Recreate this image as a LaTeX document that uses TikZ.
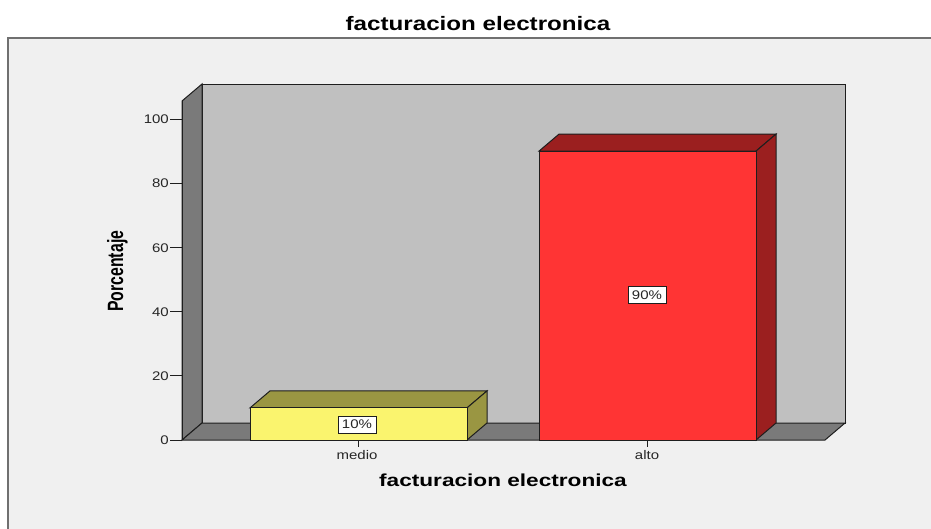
\documentclass[tikz,border=0pt]{standalone}
\usepackage{graphicx}
\usepackage{fontspec}
\setmainfont{Liberation Sans}
\definecolor{framebg}{HTML}{F0F0F0}
\definecolor{framegray}{HTML}{707070}
\definecolor{wallback}{HTML}{C0C0C0}
\definecolor{wallside}{HTML}{7A7A7A}
\definecolor{edge}{HTML}{1E1E1E}
\definecolor{yelfront}{HTML}{FAF46E}
\definecolor{yeldark}{HTML}{9A9642}
\definecolor{redfront}{HTML}{FF3434}
\definecolor{reddark}{HTML}{9B1F1F}
\definecolor{txt}{HTML}{262626}
\newcommand\wideby[2]{\scalebox{#1}[1]{#2}}
\tikzset{
  faceline/.style={draw=edge, line width=1pt, line join=miter},
  ticklbl/.style={anchor=base east, inner sep=0pt, text=txt, font=\fontsize{12.5}{14}\selectfont},
  catlbl/.style={anchor=base, inner sep=0pt, text=txt, font=\fontsize{12.5}{14}\selectfont},
  pctbox/.style={draw=edge, fill=white, line width=0.9pt, inner sep=0pt, minimum width=38pt, minimum height=17pt, text=txt, font=\fontsize{12.5}{14}\selectfont},
  titlelbl/.style={anchor=base, inner sep=0pt, font=\fontsize{19.5}{22}\selectfont\bfseries},
  axtitle/.style={anchor=base, inner sep=0pt, font=\fontsize{17.4}{20}\selectfont\bfseries},
  tickmark/.style={draw=edge, line width=1pt}
}
\begin{document}
\begin{tikzpicture}[x=1pt,y=-1pt]
\useasboundingbox (0,0) rectangle (931,528);
\fill[white] (-20,-20) rectangle (1000,600);
% outer frame (continues past right and bottom edges)
\fill[framebg] (8,38) rectangle (1000,600);
\draw[framegray, line width=2pt] (8,600) -- (8,38) -- (1000,38);
% title
\node[titlelbl] (title) at (478,30.7) {\wideby{1.24}{facturacion electronica}};
% walls
\path[faceline, fill=wallback] (202,84) rectangle (845,423);
\path[faceline, fill=wallside] (182,101) -- (202,84) -- (202,423) -- (182,440) -- cycle;
\path[faceline, fill=wallside] (182,440) -- (202,423) -- (845,423) -- (825,440) -- cycle;
% y axis ticks and labels
\foreach \v/\lab in {0/0,20/20,40/40,60/60,80/80,100/100}{
  \draw[tickmark] (170,{440-3.21*\v}) -- (182,{440-3.21*\v});
  \node[ticklbl] (tick\v) at (169,{440-3.21*\v+4.6}) {\wideby{1.2}{\lab}};
}
% bar medio
\path[faceline, fill=yeldark] (250,407.9) -- (270,390.9) -- (487,390.9) -- (467,407.9) -- cycle;
\path[faceline, fill=yeldark] (467,407.9) -- (487,390.9) -- (487,423) -- (467,440) -- cycle;
\path[faceline, fill=yelfront] (250,407.9) rectangle (467,440);
% bar alto
\path[faceline, fill=reddark] (539,151.1) -- (559,134.1) -- (776,134.1) -- (756,151.1) -- cycle;
\path[faceline, fill=reddark] (756,151.1) -- (776,134.1) -- (776,423) -- (756,440) -- cycle;
\path[faceline, fill=redfront] (539,151.1) rectangle (756,440);
% axis line at front-left
\draw[tickmark] (182,101) -- (182,440);
% value labels
\node[pctbox] (p10) at (357,424.5) {\wideby{1.2}{10\%}};
\node[pctbox] (p90) at (647,295) {\wideby{1.2}{90\%}};
% category ticks and labels
\draw[tickmark] (358,440) -- (358,447);
\draw[tickmark] (647,440) -- (647,447);
\node[catlbl] (cmedio) at (357,459.3) {\wideby{1.2}{medio}};
\node[catlbl] (calto) at (647,459.3) {\wideby{1.2}{alto}};
% axis titles
\node[axtitle] (xtitle) at (503,486) {\wideby{1.3}{facturacion electronica}};
\node[rotate=90, inner sep=0pt, font=\fontsize{15.8}{18}\selectfont\bfseries] (ytitle) at (117.5,271.2) {\scalebox{1}[1.4]{Porcentaje}};
\end{tikzpicture}
\end{document}
